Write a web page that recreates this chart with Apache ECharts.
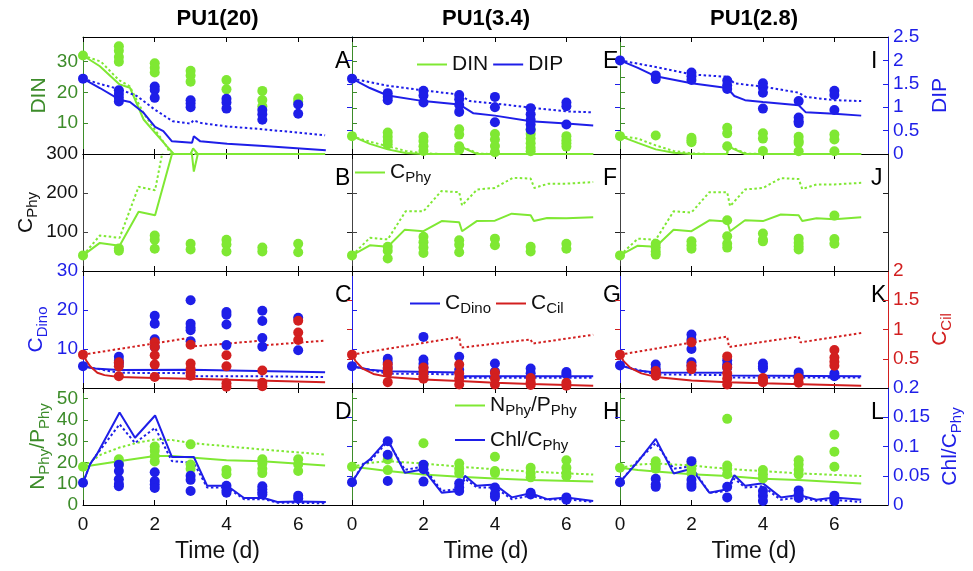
<!DOCTYPE html>
<html><head><meta charset="utf-8">
<script src="https://cdn.jsdelivr.net/npm/echarts@6/dist/echarts.min.js"></script>
<style>html,body{margin:0;padding:0;background:#fff}#c{width:973px;height:571px}</style>
</head><body><div id="c"></div>
<script>
// ---------------- DATA ----------------
const days = [0,1,2,3,4,5,6];
const xTicks = [0,2,4,6];
const colTitles = ['PU1(20)','PU1(3.4)','PU1(2.8)'];
const panelLetters = [['A','E','I'],['B','F','J'],['C','G','K'],['D','H','L']];

// Column PU1(20)
const DIN_obs_20 = [[32],[35,33.5,31.5,30],[29.5,28,26.5],[27,25.5,23.5],[24,21],[20.5,17.5,15.5],[18,17]];
const DIP_obs_20 = [[1.61],[1.36,1.28,1.2,1.12],[1.44,1.37,1.2],[1.15,1.08,1.0],[1.18,1.1,0.97],[0.94,0.85,0.73],[1.06,0.86]];
const DIN_sol_20 = [[0,32],[0.47,28.5],[1.02,22.6],[1.31,21.5],[1.69,11.2],[2.01,6.9],[2.34,2.5],[2.53,0],[3.0,0],[3.07,1.8],[3.2,0],[6.75,0]];
const DIN_dot_20 = [[0,32],[0.5,30],[1.0,24],[1.3,22],[1.7,13],[2.0,8],[2.3,3],[2.45,0],[6.75,0]];
const DIP_sol_20 = [[0,1.61],[0.47,1.41],[1.02,1.16],[1.31,1.11],[1.69,0.88],[2.01,0.58],[2.24,0.49],[2.48,0.27],[3.04,0.24],[3.09,0.38],[3.27,0.27],[4.02,0.22],[5.04,0.17],[6.77,0.08]];
const DIP_dot_20 = [[0,1.61],[0.5,1.49],[1.0,1.39],[1.5,1.24],[2.0,0.95],[2.5,0.7],[3.0,0.65],[3.08,0.72],[3.3,0.66],[4.0,0.59],[5.0,0.53],[5.05,0.5],[6.75,0.40]];
const CPhy_obs_20 = [[40],[58,52],[91,80,57],[70,55],[80,68,50],[60,50],[70,48]];
const CPhy_sol_20 = [[0,40],[0.47,72],[1.02,65],[1.55,152],[2.01,143],[2.55,323],[3.0,330],[3.09,255],[3.3,340],[4,380],[5,400],[6.75,420]];
const CPhy_dot_20 = [[0,40],[0.47,91],[1.02,85],[1.55,216],[2.01,207],[2.3,345],[3,420],[6.75,520]];
const CDino_obs_20 = [[5.6],[8,7,6.2],[18.5,16.5,12.5,10.5],[22.5,16.5,15.5,14.8,12],[19.5,18.8,16.3,11],[19.8,17.2,12.8,10.6],[18,9.7]];
const CCil_obs_20 = [[0.57],[0.44,0.37,0.2],[0.78,0.7,0.56,0.4,0.19],[0.74,0.42,0.33,0.27,0.21],[0.56,0.37,0.08,0.02],[0.3,0.09,0.03],[1.15,0.95,0.82]];
const CDino_sol_20 = [[0,5.6],[0.3,5.0],[1,4.6],[3,4.7],[3.05,4.4],[6.75,4.05]];
const CDino_dot_20 = [[0,5.6],[1,3.9],[3,3.8],[3.05,3.0],[5,3.0],[5.05,2.7],[6.75,2.8]];
const CCil_sol_20 = [[0,0.57],[0.1,0.46],[0.2,0.37],[0.4,0.26],[0.6,0.22],[1,0.19],[2,0.17],[3,0.16],[3.05,0.145],[6.75,0.1]];
const CCil_dot_20 = [[0,0.57],[3.0,0.86],[3.05,0.71],[5.0,0.81],[5.05,0.73],[6.75,0.81]];
const NP_obs_20 = [[18],[21.5,19.5],[27.5,25.5,23,20.5],[28.5,19,17],[16.5,14.5],[21.5,19.5,17,15],[21.5,19,16]];
const Chl_obs_20 = [[0.038],[0.069,0.058,0.044,0.036,0.032],[0.056,0.041,0.035,0.029],[0.05,0.043,0.024],[0.033,0.025,0.021],[0.032,0.027,0.022,0.018],[0.016,0.011]];
const NP_sol_20 = [[0,18],[1,20.6],[2,23],[2.5,23],[3,22.3],[4,21],[5,20.6],[6.75,18.6]];
const NP_dot_20 = [[0,18],[0.5,23.7],[1,26.9],[1.5,29.2],[2,30.8],[2.5,30.5],[3,29.2],[4,27.6],[5,26.1],[6.75,23.7]];
const Chl_sol_20 = [[0,0.038],[0.2,0.07],[0.38,0.086],[1.02,0.158],[1.45,0.115],[2.01,0.153],[2.48,0.082],[3.09,0.082],[3.46,0.033],[4.02,0.033],[4.49,0.012],[5.04,0.012],[5.42,0.005],[6.0,0.006],[6.77,0.005]];
const Chl_dot_20 = [[0,0.038],[0.2,0.07],[0.38,0.086],[1.02,0.138],[1.45,0.106],[2.01,0.132],[2.48,0.075],[3.09,0.072],[3.46,0.030],[4.02,0.030],[4.49,0.010],[5.04,0.010],[5.42,0.004],[6.77,0.003]];

// Column PU1(3.4)
const DIN_obs_34 = [[5.8],[7,5.6,4.2,3.1],[5.6,4.2,2.5,1],[8,6.3,2.5,1.4],[6.5,4.7,2.6,0.6],[8,6.5,5,3.5,2,0.9],[5.8,4.5,3.5,2.4]];
const DIP_obs_34 = [[1.61],[1.3,1.22,1.15],[1.35,1.25,1.1],[1.26,1.17,1.05,0.9],[1.22,1.0,0.68],[0.98,0.85,0.73,0.63,0.52],[1.1,1.02,0.63]];
const DIN_sol_34 = [[0,5.8],[0.5,3.3],[1,1.5],[1.5,0.3],[2,0],[3,0],[3.02,2.5],[3.5,0],[6.75,0]];
const DIN_dot_34 = [[0,5.8],[0.5,4.0],[1,2.5],[1.5,1.0],[2,0.2],[2.5,0],[3,0],[3.02,2.6],[3.55,0.1],[4,0],[6.75,0]];
const DIP_sol_34 = [[0,1.61],[0.5,1.41],[1,1.25],[2,1.13],[3,1.06],[3.4,0.87],[4,0.82],[5,0.70],[6,0.65],[6.75,0.61]];
const DIP_dot_34 = [[0,1.61],[1,1.46],[2,1.36],[3,1.27],[3.3,1.13],[4,1.08],[5,0.99],[6,0.91],[6.75,0.89]];
const CPhy_obs_34 = [[40],[62,52,32],[88,74,60,46],[79,67,48],[83,66],[62,50],[70,57]];
const CPhy_sol_34 = [[0,40],[0.5,66],[1,62],[1.48,106],[2,102],[2.51,128],[3,125],[3.08,102],[3.49,128],[4,129],[4.47,147],[5,143],[5.09,128],[5.46,136],[6,135],[6.75,138]];
const CPhy_dot_34 = [[0,40],[0.5,85],[1,81],[1.5,153],[2,153],[2.5,205],[3,202],[3.08,168],[3.5,209],[4,213],[4.5,239],[5,237],[5.1,213],[5.5,224],[6,224],[6.75,228]];
const CDino_obs_34 = [[5.6],[7.5,6.5,5.2],[13.1,7.3,6.2,5.2],[8,4.7],[6.3,4.2],[5.0,3.8],[4.1,3.5]];
const CCil_obs_34 = [[0.57],[0.4,0.33,0.26,0.1],[0.35,0.28,0.2,0.16],[0.4,0.25,0.16,0.06],[0.26,0.16,0.06],[0.17,0.1,0.05],[0.09,0.04]];
const CDino_sol_34 = [[0,5.6],[0.5,4.7],[1,4.3],[3,4.0],[3.05,3.0],[6.75,3.0]];
const CDino_dot_34 = [[0,5.6],[1,3.7],[3,3.5],[3.05,2.6],[6.75,2.6]];
const CCil_sol_34 = [[0,0.57],[0.1,0.46],[0.3,0.33],[0.6,0.24],[1,0.19],[2,0.145],[3,0.12],[4,0.09],[5,0.07],[6.75,0.04]];
const CCil_dot_34 = [[0,0.57],[3,0.87],[3.05,0.69],[5,0.83],[5.05,0.76],[6.75,0.91]];
const NP_obs_34 = [[18],[21.4,16.4],[29,18.6],[19.5,17,15],[22.7,16,15],[17.5,15,13],[21,17.5,15,13.5]];
const Chl_obs_34 = [[0.039],[0.109,0.086,0.041],[0.069,0.061,0.04],[0.037,0.03,0.024],[0.03,0.019,0.014],[0.021,0.018],[0.013,0.009]];
const NP_sol_34 = [[0,18],[0.5,17],[1,16],[2,14.3],[3,13.3],[4,12.5],[5,11.7],[6.75,11]];
const NP_dot_34 = [[0,18],[0.5,19.8],[1,20.6],[2,19.5],[3,18],[4,16.8],[5,15.7],[6.75,14.3]];
const Chl_sol_34 = [[0,0.039],[0.33,0.07],[0.5,0.078],[1,0.112],[1.48,0.055],[2,0.061],[2.51,0.021],[3,0.024],[3.16,0.05],[3.49,0.033],[4,0.035],[4.47,0.013],[5,0.02],[5.46,0.010],[6,0.013],[6.75,0.007]];
const Chl_dot_34 = [[0,0.039],[0.33,0.072],[0.5,0.074],[1,0.109],[1.48,0.06],[2,0.066],[2.51,0.024],[3,0.027],[3.16,0.045],[3.49,0.03],[4,0.03],[4.47,0.010],[5,0.016],[5.46,0.009],[6,0.010],[6.75,0.005]];

// Column PU1(2.8)
const DIN_obs_28 = [[5.8],[6.0],[5.3,4.5,3.8],[8.5,6.7,2.5],[6.7,5.0,1],[5.6,4.2,3.6,0.9],[6.3,4.7,0.9]];
const DIP_obs_28 = [[2.0],[1.68,1.6],[1.74,1.66,1.58],[1.57,1.47,1.39],[1.51,1.42,1.31,0.97],[1.13,0.78,0.7,0.66],[1.35,1.26,0.94]];
const DIN_sol_28 = [[0,5.8],[0.5,3.6],[1,1.5],[1.5,0.4],[2,0],[3,0],[3.02,2.5],[3.5,0],[6.75,0]];
const DIN_dot_28 = [[0,5.8],[0.5,5.0],[1,2.8],[1.5,1.0],[2,0.2],[2.5,0],[3,0],[3.02,2.6],[3.55,0.1],[4,0],[6.75,0]];
const DIP_sol_28 = [[0,2.0],[0.5,1.84],[1,1.66],[2,1.51],[3,1.41],[3.2,1.24],[3.5,1.15],[4,1.11],[5,1.04],[5.2,0.89],[6,0.86],[6.75,0.82]];
const DIP_dot_28 = [[0,2.0],[1,1.86],[2,1.7],[3,1.65],[3.2,1.51],[4,1.44],[5,1.31],[5.2,1.22],[6,1.15],[6.75,1.13]];
const CPhy_obs_28 = [[40],[70,60,50,42],[76,66,57],[130,89,70,60],[96,80,76],[83,72,63,55],[142,82,70]];
const CPhy_sol_28 = [[0,40],[0.5,65],[1,62],[1.5,106],[2,102],[2.5,130],[3,127],[3.08,102],[3.5,130],[4,128],[4.5,145],[5,143],[5.1,128],[5.5,135],[6,133],[6.75,138]];
const CPhy_dot_28 = [[0,40],[0.5,83],[1,80],[1.5,153],[2,150],[2.5,202],[3,202],[3.08,166],[3.5,209],[4,213],[4.5,238],[5,236],[5.1,210],[5.5,222],[6,222],[6.75,226]];
const CDino_obs_28 = [[5.8],[6.0,5.0,4.2],[13.7,12.4,10,6.6,5.8],[7.1,6.0,5.2],[6.3,5.5,5.0],[4.0,3.3],[3.7,3.0]];
const CCil_obs_28 = [[0.57],[0.29,0.24,0.21],[0.78,0.38,0.32],[0.54,0.36,0.25,0.16,0.06],[0.17,0.13,0.1],[0.17,0.09],[0.65,0.52,0.45,0.38]];
const CDino_sol_28 = [[0,5.8],[0.5,4.5],[1,4.0],[3,3.9],[3.05,3.2],[6.75,3.0]];
const CDino_dot_28 = [[0,5.8],[1,3.5],[3,3.3],[3.05,2.7],[6.75,2.7]];
const CCil_sol_28 = [[0,0.57],[0.1,0.46],[0.3,0.34],[0.6,0.25],[1,0.19],[2,0.13],[3,0.1],[4,0.08],[6.75,0.04]];
const CCil_dot_28 = [[0,0.57],[3,0.88],[3.05,0.70],[5,0.88],[5.05,0.78],[6.75,0.94]];
const NP_obs_28 = [[17.5],[20.6,18.6,17],[19.5,17,15],[40.5,18.6,17,14.5],[16.4,14.4,12.5],[21,19,16.5,14.4],[33,25,18]];
const Chl_obs_28 = [[0.039],[0.045,0.035,0.031],[0.075,0.043,0.036,0.031],[0.031,0.013],[0.024,0.016,0.007],[0.025,0.018,0.012],[0.016,0.011,0.007]];
const NP_sol_28 = [[0,17.5],[0.5,16.4],[1,15.7],[2,14.4],[3,13.6],[4,12.3],[5,11.7],[6.75,10.1]];
const NP_dot_28 = [[0,17.5],[0.5,19],[1,19.5],[2,18.6],[3,17],[4,15.9],[5,14.9],[6.75,13.6]];
const Chl_sol_28 = [[0,0.039],[0.5,0.074],[1,0.113],[1.5,0.054],[2,0.062],[2.5,0.021],[3,0.027],[3.2,0.051],[3.5,0.033],[4,0.037],[4.5,0.013],[5,0.017],[5.5,0.009],[6,0.013],[6.75,0.009]];
const Chl_dot_28 = [[0,0.039],[0.5,0.076],[1,0.106],[1.5,0.062],[2,0.066],[2.5,0.021],[3,0.024],[3.2,0.045],[3.5,0.03],[4,0.032],[4.5,0.009],[5,0.013],[5.5,0.007],[6,0.009],[6.75,0.005]];

// ---------------- STYLE / LAYOUT ----------------
const FONT = '"Liberation Sans", Arial, Helvetica, sans-serif';
const GREEN = '#7fe833', BLUE = '#1e1ee8', RED = '#d21f1f', DKG = '#3d8c2a', BLK = '#111111';
const COLL = [83, 352, 620], COLW = [269, 268, 268], ROWT = [37, 154, 271, 388], ROWH = 117;
const XMAX = 7.5;

const cols = [
  {DIN_obs:DIN_obs_20,DIP_obs:DIP_obs_20,DIN_sol:DIN_sol_20,DIN_dot:DIN_dot_20,DIP_sol:DIP_sol_20,DIP_dot:DIP_dot_20,
   CPhy_obs:CPhy_obs_20,CPhy_sol:CPhy_sol_20,CPhy_dot:CPhy_dot_20,CDino_obs:CDino_obs_20,CCil_obs:CCil_obs_20,
   CDino_sol:CDino_sol_20,CDino_dot:CDino_dot_20,CCil_sol:CCil_sol_20,CCil_dot:CCil_dot_20,
   NP_obs:NP_obs_20,Chl_obs:Chl_obs_20,NP_sol:NP_sol_20,NP_dot:NP_dot_20,Chl_sol:Chl_sol_20,Chl_dot:Chl_dot_20},
  {DIN_obs:DIN_obs_34,DIP_obs:DIP_obs_34,DIN_sol:DIN_sol_34,DIN_dot:DIN_dot_34,DIP_sol:DIP_sol_34,DIP_dot:DIP_dot_34,
   CPhy_obs:CPhy_obs_34,CPhy_sol:CPhy_sol_34,CPhy_dot:CPhy_dot_34,CDino_obs:CDino_obs_34,CCil_obs:CCil_obs_34,
   CDino_sol:CDino_sol_34,CDino_dot:CDino_dot_34,CCil_sol:CCil_sol_34,CCil_dot:CCil_dot_34,
   NP_obs:NP_obs_34,Chl_obs:Chl_obs_34,NP_sol:NP_sol_34,NP_dot:NP_dot_34,Chl_sol:Chl_sol_34,Chl_dot:Chl_dot_34},
  {DIN_obs:DIN_obs_28,DIP_obs:DIP_obs_28,DIN_sol:DIN_sol_28,DIN_dot:DIN_dot_28,DIP_sol:DIP_sol_28,DIP_dot:DIP_dot_28,
   CPhy_obs:CPhy_obs_28,CPhy_sol:CPhy_sol_28,CPhy_dot:CPhy_dot_28,CDino_obs:CDino_obs_28,CCil_obs:CCil_obs_28,
   CDino_sol:CDino_sol_28,CDino_dot:CDino_dot_28,CCil_sol:CCil_sol_28,CCil_dot:CCil_dot_28,
   NP_obs:NP_obs_28,Chl_obs:Chl_obs_28,NP_sol:NP_sol_28,NP_dot:NP_dot_28,Chl_sol:Chl_sol_28,Chl_dot:Chl_dot_28}
];

function richName(color, size, subSize, pad) {
  return {
    fontSize: size, fontFamily: FONT, color: color,
    rich: {
      m: {fontSize: size, fontFamily: FONT, color: color, lineHeight: size + 2, verticalAlign: 'top'},
      s: {fontSize: subSize, fontFamily: FONT, color: color, lineHeight: subSize, padding: [pad, 0, 0, 0], verticalAlign: 'top'}
    }
  };
}

const rowAxes = [
  {L: {max: 38, ticks0: [10,20,30], ticks: [5,10,15,20,25,30,35], labels: [10,20,30], color: DKG, line: DKG,
       name: '{m|DIN}', gap: 31},
   R: {max: 2.5, ticks: [0.5,1,1.5,2], labels: [0,0.5,1,1.5,2,2.5], color: BLUE, line: BLUE, name: '{m|DIP}', gap: 42}},
  {L: {max: 300, ticks0: [100,200], ticks: [100,200], labels: [100,200,300], color: BLK, line: '#444',
       name: '{m|C}{s|Phy}', gap: 44},
   R: {max: 300, ticks: [100,200], labels: [], color: BLK, line: '#222', name: '', gap: 40}},
  {L: {max: 30, ticks0: [10,20], ticks: [10,20], labels: [10,20,30], color: BLUE, line: BLUE,
       name: '{m|C}{s|Dino}', gap: 34},
   R: {max: 2, ticks: [0.5,1,1.5], labels: [0.5,1,1.5,2], color: RED, line: RED, name: '{m|C}{s|Cil}', gap: 42}},
  {L: {max: 55, ticks0: [10,20,30,40,50], ticks: [10,20,30,40,50], labels: [0,10,20,30,40,50], color: DKG, line: DKG,
       name: '{m|N}{s|Phy}{m|/P}{s|Phy}', gap: 32},
   R: {max: 0.2, ticks: [0.05,0.1,0.15], labels: [0,0.05,0.1,0.15,0.2], color: BLUE, line: BLUE,
       name: '{m|Chl/C}{s|Phy}', gap: 52}}
];

const grids = [], xAxes = [], yAxes = [], series = [], graphics = [];

function obsPairs(groups) {
  const out = [];
  groups.forEach((g, i) => g.forEach(v => out.push([days[i], v])));
  return out;
}
function addLine(g, side, data, color, dotted, name) {
  series.push({
    type: 'line', name: name, xAxisIndex: 2 * g, yAxisIndex: 2 * g + (side === 'R' ? 1 : 0),
    data: data, symbol: 'none', showSymbol: false, clip: true, silent: true, z: 2,
    lineStyle: {color: color, width: 2, type: dotted ? [2.5, 2.5] : 'solid', cap: 'butt'},
    itemStyle: {color: color}
  });
}
function addDots(g, side, groups, color) {
  series.push({
    type: 'scatter', xAxisIndex: 2 * g, yAxisIndex: 2 * g + (side === 'R' ? 1 : 0),
    data: obsPairs(groups), symbol: 'circle', symbolSize: 10, silent: true, z: 3, clip: true,
    itemStyle: {color: color, opacity: 1}
  });
}

for (let r = 0; r < 4; r++) {
  for (let c = 0; c < 3; c++) {
    const g = r * 3 + c;
    grids.push({left: COLL[c], top: ROWT[r], width: COLW[c], height: ROWH, containLabel: false, outerBoundsMode: 'none'});
    const tickStyle = {show: true, inside: true, length: 5, customValues: xTicks, lineStyle: {color: '#000', width: 1}};
    xAxes.push({
      gridIndex: g, type: 'value', min: 0, max: XMAX, position: 'bottom',
      axisLine: {show: true, onZero: false, lineStyle: {color: '#000', width: 1}},
      axisTick: tickStyle,
      axisLabel: {show: r === 3, customValues: xTicks, fontSize: 19, color: BLK, fontFamily: FONT, margin: 10},
      splitLine: {show: false},
      name: r === 3 ? 'Time (d)' : '', nameLocation: 'middle', nameGap: 35, nameMoveOverlap: false,
      nameTextStyle: {fontSize: 23, color: BLK, fontFamily: FONT}
    });
    xAxes.push({
      gridIndex: g, type: 'value', min: 0, max: XMAX, position: 'top',
      axisLine: {show: true, onZero: false, lineStyle: {color: '#000', width: 1}},
      axisTick: tickStyle, axisLabel: {show: false}, splitLine: {show: false}
    });
    const ax = rowAxes[r];
    ['L', 'R'].forEach(side => {
      const a = ax[side];
      const showLab = (side === 'L' && c === 0) || (side === 'R' && c === 2);
      const ticks = (side === 'L' && c === 0) ? a.ticks0 : a.ticks;
      yAxes.push({
        gridIndex: g, type: 'value', min: 0, max: a.max, position: side === 'L' ? 'left' : 'right',
        axisLine: {show: true, onZero: false, lineStyle: {color: a.line, width: 1}},
        axisTick: {show: true, inside: true, length: 5, customValues: ticks, lineStyle: {color: a.line, width: 1}},
        axisLabel: {show: showLab && a.labels.length > 0, customValues: a.labels.length ? a.labels : [0],
                    fontSize: 19, color: a.color, fontFamily: FONT, margin: 5},
        splitLine: {show: false},
        name: showLab ? a.name : '',
        nameLocation: 'middle', nameRotate: 90, nameGap: a.gap, nameMoveOverlap: false,
        nameTextStyle: richName(a.color, 21, 15, 9)
      });
    });
    const d = cols[c];
    if (r === 0) {
      addLine(g, 'L', d.DIN_sol, GREEN, false, 'DIN');
      addLine(g, 'L', d.DIN_dot, GREEN, true, 'DIN_d');
      addLine(g, 'R', d.DIP_sol, BLUE, false, 'DIP');
      addLine(g, 'R', d.DIP_dot, BLUE, true, 'DIP_d');
      addDots(g, 'L', d.DIN_obs, GREEN);
      addDots(g, 'R', d.DIP_obs, BLUE);
    } else if (r === 1) {
      addLine(g, 'L', d.CPhy_sol, GREEN, false, 'CPhy');
      addLine(g, 'L', d.CPhy_dot, GREEN, true, 'CPhy_d');
      addDots(g, 'L', d.CPhy_obs, GREEN);
    } else if (r === 2) {
      addLine(g, 'L', d.CDino_sol, BLUE, false, 'CDino');
      addLine(g, 'L', d.CDino_dot, BLUE, true, 'CDino_d');
      addLine(g, 'R', d.CCil_sol, RED, false, 'CCil');
      addLine(g, 'R', d.CCil_dot, RED, true, 'CCil_d');
      addDots(g, 'L', d.CDino_obs, BLUE);
      addDots(g, 'R', d.CCil_obs, RED);
    } else {
      addLine(g, 'L', d.NP_sol, GREEN, false, 'NP');
      addLine(g, 'L', d.NP_dot, GREEN, true, 'NP_d');
      addLine(g, 'R', d.Chl_sol, BLUE, false, 'Chl');
      addLine(g, 'R', d.Chl_dot, BLUE, true, 'Chl_d');
      addDots(g, 'L', d.NP_obs, GREEN);
      addDots(g, 'R', d.Chl_obs, BLUE);
    }
    graphics.push({
      type: 'text', x: COLL[c] + COLW[c] - 17, y: ROWT[r] + 25, silent: true,
      style: {text: panelLetters[r][c], fontSize: 23, fontFamily: FONT, fill: '#000', align: 'left', verticalAlign: 'middle'}
    });
  }
}
colTitles.forEach((t, c) => {
  graphics.push({
    type: 'text', x: COLL[c] + COLW[c] / 2, y: 19, silent: true,
    style: {text: t, fontSize: 22, fontWeight: 'bold', fontFamily: FONT, fill: '#000', align: 'center', verticalAlign: 'middle'}
  });
});

const LEG = {DIN: 'DIN', DIP: 'DIP', CPhy: 'C{s|Phy}', CDino: 'C{s|Dino}', CCil: 'C{s|Cil}',
             NP: 'N{s|Phy}/P{s|Phy}', Chl: 'Chl/C{s|Phy}'};
function legendBase(data, left, top, orient, gap) {
  return {
    data: data, left: left, top: top, orient: orient, icon: 'rect', itemWidth: 30, itemHeight: 2, itemGap: gap,
    selectedMode: false, padding: 0,
    formatter: n => LEG[n],
    textStyle: {fontSize: 21, fontFamily: FONT, color: BLK,
                rich: {s: {fontSize: 15, fontFamily: FONT, color: BLK, padding: [11, 0, 0, 0]}}}
  };
}

const option = {
  animation: false,
  backgroundColor: '#fff',
  grid: grids, xAxis: xAxes, yAxis: yAxes, series: series,
  legend: [
    legendBase(['DIN', 'DIP'], 417, 54, 'horizontal', 5),
    legendBase(['CPhy'], 355, 162, 'horizontal', 5),
    legendBase(['CDino', 'CCil'], 410, 293, 'horizontal', 5),
    legendBase(['NP', 'Chl'], 455, 395, 'vertical', 11)
  ],
  graphic: graphics
};
const chart = echarts.init(document.getElementById('c'), null, {renderer: 'canvas'});
chart.setOption(option);
</script></body></html>
